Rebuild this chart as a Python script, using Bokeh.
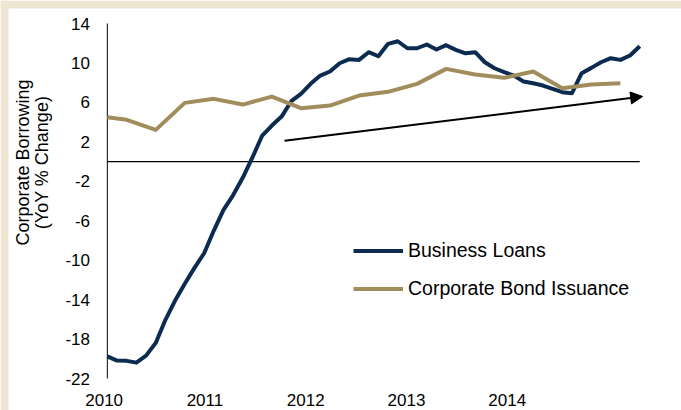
from math import pi
from bokeh.plotting import figure
from bokeh.models import Range1d, Arrow, NormalHead, BoxAnnotation
from bokeh.core.properties import value
from bokeh.embed import file_html
from bokeh.resources import INLINE

# ---- data (month index from Jan 2010) ----
loans_month = list(range(56))
loans_value = [-19.75, -20.18, -20.21, -20.39, -19.68, -18.39, -16.05, -14.1, -12.4, -10.78,
               -9.3, -7.0, -4.9, -3.4, -1.62, 0.44, 2.64, 3.65, 4.56, 6.12,
               6.87, 7.88, 8.72, 9.13, 9.97, 10.38, 10.31, 11.09, 10.68, 11.94,
               12.2, 11.49, 11.49, 11.87, 11.36, 11.8, 11.33, 10.98, 11.09, 10.07,
               9.46, 9.06, 8.72, 8.11, 7.94, 7.71, 7.37, 7.03, 6.93, 8.96,
               9.5, 10.07, 10.48, 10.31, 10.75, 11.69]

bonds_month = [0, 2, 5, 8, 11, 14, 17, 20, 23, 26, 29, 32, 35, 38, 41, 44, 47, 50, 53]
bonds_value = [4.49, 4.23, 3.21, 5.95, 6.36, 5.78, 6.59, 5.41, 5.68, 6.69,
               7.07, 7.88, 9.4, 8.82, 8.49, 9.13, 7.43, 7.81, 7.94]

trend_month = [18.3, 55.3]
trend_value = [2.1, 6.6]

year_labels = ["2010", "2011", "2012", "2013", "2014"]
y_ticks = [-22, -18, -14, -10, -6, -2, 2, 6, 10, 14]
y_tick_labels = ["-22", "-18", "-14", "-10", "-6", "-2", "2", "6", "10", "14"]

series_names = ["Business Loans", "Corporate Bond Issuance"]
y_title = ["Corporate Borrowing", "(YoY % Change)"]

# ---- layout (pixels) ----
W, H = 681, 410
X0_PX = 106.84          # pixel of first month
PX_PER_MONTH = 9.68
Y_TOP_PX = 23.0         # pixel of top tick
PX_PER_UNIT = 355.0 / 36.0

def px_to_x(px):
    return (px - X0_PX) / PX_PER_MONTH

def py_to_y(py):
    return y_ticks[-1] - (py - Y_TOP_PX) / PX_PER_UNIT

FONT = "Liberation Sans"
NAVY = "#0B2B50"
TAN = "#A08D5B"
BEIGE = "#EFE5D3"

p = figure(width=W, height=H, output_backend="svg", toolbar_location=None,
           x_range=Range1d(px_to_x(0), px_to_x(W)),
           y_range=Range1d(py_to_y(H), py_to_y(0)),
           x_axis_location=None, y_axis_location=None, min_border=0)
p.outline_line_color = None
p.grid.visible = False
p.background_fill_color = "white"
p.border_fill_color = "white"

# page-edge bands
p.add_layout(BoxAnnotation(right=px_to_x(8), fill_color=BEIGE, fill_alpha=1, line_color=None))
p.add_layout(BoxAnnotation(bottom=py_to_y(8), fill_color=BEIGE, fill_alpha=1, line_color=None))

# axis line and zero line
p.segment(x0=[loans_month[0]], y0=[y_ticks[0]], x1=[loans_month[0]], y1=[y_ticks[-1]],
          line_color="black", line_width=1)
p.segment(x0=[loans_month[0]], y0=[0], x1=[loans_month[-1]], y1=[0],
          line_color="black", line_width=1.2)

# tick labels
p.text(x=[px_to_x(89.5)] * len(y_ticks), y=y_ticks, text=y_tick_labels,
       text_align="right", text_baseline="middle", text_font=value(FONT),
       text_font_size="17px", text_color="black")
tick_step = 10.41
tick_pos = [-0.33 + tick_step * k for k in range(len(year_labels))]
p.text(x=tick_pos, y=[py_to_y(399.6)] * len(year_labels), text=year_labels,
       text_align="center", text_baseline="middle", text_font=value(FONT),
       text_font_size="17px", text_color="black")

# y title
p.text(x=[px_to_x(22.5), px_to_x(41.5)], y=[py_to_y(162)] * 2, text=y_title,
       angle=pi / 2, text_align="center", text_baseline="middle",
       text_font=value(FONT), text_font_size="18px", text_color="black")

# series
p.line(loans_month, loans_value, line_color=NAVY, line_width=4, line_join="round",
       legend_label=series_names[0])
p.line(bonds_month, bonds_value, line_color=TAN, line_width=4, line_join="round",
       legend_label=series_names[1])

# trend arrow
p.add_layout(Arrow(end=NormalHead(size=12, fill_color="black", line_color="black"),
                   x_start=trend_month[0], y_start=trend_value[0],
                   x_end=trend_month[1], y_end=trend_value[1],
                   line_color="black", line_width=2))

# legend
lg = p.legend[0]
lg.location = (353, 110)
lg.glyph_width = 50
lg.glyph_height = 23
lg.label_height = 23
lg.spacing = 15
lg.padding = 0
lg.margin = 0
lg.label_standoff = 5
lg.border_line_color = None
lg.background_fill_alpha = 0
lg.label_text_font = FONT
lg.label_text_font_size = "19.5px"
lg.label_text_color = "black"

open("out.html", "w").write(file_html(p, INLINE))
